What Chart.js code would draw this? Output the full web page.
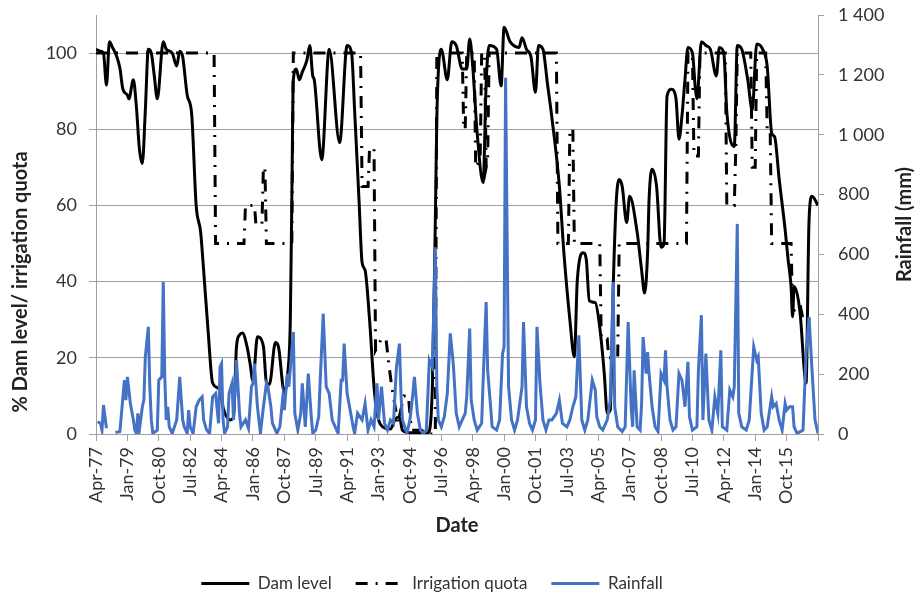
<!DOCTYPE html>
<html>
<head>
<meta charset="utf-8">
<script src="https://cdn.jsdelivr.net/npm/chart.js@4.4.0/dist/chart.umd.min.js"></script>
<style>
  html, body { margin: 0; padding: 0; background: #ffffff; }
  canvas { display: block; }
</style>
</head>
<body>
<canvas id="chart" width="919" height="598"></canvas>
<script>
// ---- Tick labels (one every 21 months, month 0 = Apr-77) ----
const xTickLabels = ['Apr-77','Jan-79','Oct-80','Jul-82','Apr-84','Jan-86','Oct-87','Jul-89','Apr-91','Jan-93',
  'Oct-94','Jul-96','Apr-98','Jan-00','Oct-01','Jul-03','Apr-05','Jan-07','Oct-08','Jul-10','Apr-12','Jan-14','Oct-15'];

// ---- Dam level (%), month index since Apr-77 ----
const damMonths = [0,3,5,7,9,11,14,16,18,21,22,25,27,29,31,33,35,37,39,41,45,47,51,54,56,58,61,64,67,70,72,75,78,83,85,90,92,94,96,98,
  101,103,105,108,112,114,116,120,122,126,128,130,131,132,134,136,138,141,143,145,146,151,156,163,168,171,173,176,178,180,183,186,188,192,197,
  200,203,205,210,215,222,225,227,228,229,231,235,238,241,245,248,250,252,255,259,261,263,268,271,273,277,283,285,288,291,294,296,299,
  302,305,310,313,317,320,322,326,328,330,334,337,340,342,344,346,348,350,352,355,357,362,365,367,369,370,372,375,378,380,382,385,388,
  390,392,394,396,399,401,402,405,408,411,415,417,420,422,427,429,432,436,439,442,446,449,452,454,457,461,463,465,466,467,471,474,475,
  477,479,483];
const damLevel = [101,100.5,100,91.6,103,101.5,99,96,90.5,89,88,93,86,75,71,85,101,100,94,88,103,101,100,96.6,100.5,99,89,84,60,53,43,27,13.4,11.6,7,3.7,4.5,23,26,26.5,
  23,18.7,14,25.5,23,13.5,13,24,23,10.8,15,30,61.6,93,95.8,93,95,98,102,94,93,72,101,76.5,102,100,85,61,45,43,30,12.4,5.5,1.8,1.3,
  3.7,4.5,1,0.3,0.3,0.3,12,56,82.6,95,101,93,103,102,95.8,95.8,103.7,96.6,79,66,92,102,101,91.4,106.8,103,101.5,104,101,99,89.7,102,101,
  92,83,65,47.6,30,20.3,40.5,47.6,45.8,35,34.5,28,16,5.5,6.3,38.7,60.8,66.8,65,55.5,62.4,53,43,37,47.6,61.6,69.5,65,49,50,88.7,90.5,88,
  77.4,83.5,93,101.5,100,90.5,88,103,102,101,94,101.5,100,84.5,75.5,102,101,93,85,102.4,101,96.6,79,78,67,53.7,45.8,38.7,30.8,38.7,31.8,16,13.4,
  56,62.4,60];

// ---- Irrigation quota (%) ----
const quotaMonths = [0,79,80,99,100,106,107,111,112,113,114,131,132,177,178,182,183,186,187,191,194,196,198,202,206,209,211,218,220,227,
  228,245,246,247,248,253,254,257,258,260,261,262,263,308,309,316,317,319,320,337,338,342,343,349,350,395,396,399,400,403,404,
  421,422,427,428,429,438,439,441,442,448,449,451,452,465,466,471,473,483];
const quota = [100,100,50,50,60,60,55,55,70,70,50,50,100,100,65,65,75,75,22,25,25,18,12,3,10,10,1,1,0,0,
  100,100,80,80,100,100,70,72,100,100,70,72,100,100,50,50,80,80,50,50,25,25,20,20,50,50,100,100,73,73,100,
  100,60,60,75,100,100,70,70,100,100,80,80,50,50,32,34,30,30];

// ---- Rainfall (mm) ----
const rainMonths = [1,3,4,5,7,10,13,16,19,20,21,23,25,26,27,28,29,31,32,33,35,36,37,38,41,42,44,45,46,47,48,49,51,54,56,58,59,61,62,63,65,67,69,71,72,74,76,78,80,82,83,84,85,86,88,89,91,92,94,96,97,
  100,102,104,105,106,108,110,112,114,115,117,118,121,123,125,126,128,129,132,133,135,137,138,140,142,144,145,147,149,150,152,154,156,158,160,162,164,165,166,168,170,172,173,175,178,180,182,184,186,188,189,191,193,195,197,199,
  201,203,204,205,208,210,212,213,215,217,219,221,223,225,227,228,229,231,233,235,237,239,241,243,245,247,248,250,251,253,255,258,259,261,262,264,265,268,270,272,273,274,276,278,280,282,285,286,288,290,292,294,295,297,299,
  301,303,305,308,310,312,315,317,319,321,323,325,327,329,330,332,334,335,337,339,342,344,346,347,349,352,354,356,358,359,360,362,364,365,366,368,369,370,372,374,376,378,380,381,382,384,386,388,390,392,394,396,397,399,
  402,403,405,406,408,410,412,414,416,418,419,422,424,426,427,429,430,432,435,437,440,442,443,445,447,449,452,453,455,457,459,461,462,464,466,467,469,473,475,477,479,481,483];
const rainfall = [41,36,13,97,19,null,5,8,180,113,191,102,47,13,2,69,13,91,113,258,358,158,47,2,13,180,191,508,191,47,91,24,2,47,191,47,24,2,80,24,2,91,113,124,47,13,2,124,135,36,224,235,47,2,24,135,169,47,247,69,24,
  47,19,158,169,235,91,2,91,169,158,91,36,2,24,124,80,202,158,341,69,13,69,169,24,202,58,2,13,58,180,402,158,135,47,24,2,180,180,302,135,80,24,2,69,47,102,13,47,24,169,47,158,36,13,47,36,
  224,302,135,47,2,47,135,191,69,13,2,13,247,224,624,158,47,24,58,135,336,235,69,24,47,69,124,352,113,47,13,36,180,441,213,91,24,13,47,269,291,1190,158,47,13,47,158,374,91,36,13,47,358,169,47,
  13,47,47,69,113,36,24,47,91,124,330,47,13,47,91,180,147,58,24,13,47,113,508,91,24,8,24,374,91,24,213,24,13,102,324,202,274,202,91,24,8,202,180,280,158,47,13,24,202,180,91,241,58,13,
  24,213,397,47,269,47,13,124,69,280,24,13,147,124,158,702,69,24,13,47,291,247,258,69,13,24,124,91,102,47,13,102,80,91,91,24,2,13,269,391,213,47,2];

const leftTitle = '% Dam level/ irrigation quota';
const rightTitle = 'Rainfall (mm)';
const bottomTitle = 'Date';

function pairs(xs, ys) { return xs.map((x, i) => ({ x: x, y: ys[i] })); }

const FONT = 'Lato';
const TEXT = '#333333';
const GRID = '#a0a0a0';

function noEdgePadding(scale) {
  scale.paddingTop = 0;
  scale.paddingBottom = 0;
  scale.paddingLeft = 0;
  scale.paddingRight = 0;
}

const axisTitles = {
  id: 'axisTitles',
  afterDraw(chart) {
    const { ctx, chartArea } = chart;
    ctx.save();
    ctx.fillStyle = '#222222';
    ctx.font = 'bold 20px ' + FONT;
    ctx.textAlign = 'center';
    ctx.textBaseline = 'middle';
    ctx.save();
    ctx.translate(chartArea.left - 75, chartArea.bottom - 152);
    ctx.rotate(-Math.PI / 2);
    ctx.fillText(leftTitle, 0, 0);
    ctx.restore();
    ctx.save();
    ctx.translate(chartArea.right + 87, (chartArea.top + chartArea.bottom) / 2);
    ctx.rotate(-Math.PI / 2);
    ctx.fillText(rightTitle, 0, 0);
    ctx.restore();
    ctx.restore();
  }
};

new Chart(document.getElementById('chart'), {
  type: 'line',
  data: {
    datasets: [
      {
        label: 'Dam level',
        data: pairs(damMonths, damLevel),
        yAxisID: 'y',
        borderColor: '#000000',
        backgroundColor: '#000000',
        borderWidth: 3,
        cubicInterpolationMode: 'monotone',
        pointRadius: 0,
        order: 1
      },
      {
        label: 'Irrigation quota',
        data: pairs(quotaMonths, quota),
        yAxisID: 'y',
        borderColor: '#000000',
        backgroundColor: '#000000',
        borderWidth: 3,
        borderDash: [12, 8, 2, 8],
        tension: 0,
        pointRadius: 0,
        order: 2
      },
      {
        label: 'Rainfall',
        data: pairs(rainMonths, rainfall),
        yAxisID: 'y1',
        borderColor: '#4472C4',
        backgroundColor: '#4472C4',
        borderWidth: 3,
        tension: 0,
        pointRadius: 0,
        spanGaps: false,
        order: 0
      }
    ]
  },
  options: {
    responsive: false,
    animation: false,
    events: [],
    layout: { padding: { left: -24, right: 31, top: 15, bottom: -4 } },
    scales: {
      x: {
        type: 'linear',
        min: 0,
        max: 483,
        offset: false,
        afterFit(scale) { scale.height = 117; noEdgePadding(scale); },
        grid: { display: true, drawOnChartArea: false, drawTicks: true, tickLength: 7, color: GRID },
        border: { display: true, color: GRID, width: 1 },
        ticks: {
          stepSize: 21,
          autoSkip: false,
          minRotation: 90,
          maxRotation: 90,
          padding: 6,
          color: TEXT,
          font: { family: FONT, size: 18 },
          callback: (v) => xTickLabels[Math.round(v / 21)] || ''
        },
        title: {
          display: true,
          text: bottomTitle,
          color: '#222222',
          font: { family: FONT, size: 20, weight: 'bold' },
          padding: { top: 0, bottom: 13 }
        }
      },
      y: {
        type: 'linear',
        position: 'left',
        min: 0,
        max: 110,
        afterFit(scale) { scale.width = 120; noEdgePadding(scale); },
        grid: { color: GRID, drawTicks: true, tickLength: 7 },
        border: { display: true, color: GRID, width: 1 },
        ticks: {
          stepSize: 20,
          includeBounds: false,
          padding: 12,
          color: TEXT,
          font: { family: FONT, size: 18 }
        }
      },
      y1: {
        type: 'linear',
        position: 'right',
        min: 0,
        max: 1400,
        afterFit(scale) { scale.width = 70; noEdgePadding(scale); },
        grid: { drawOnChartArea: false, drawTicks: true, tickLength: 6, color: GRID },
        border: { display: true, color: GRID, width: 1 },
        ticks: {
          stepSize: 200,
          padding: 14,
          color: TEXT,
          font: { family: FONT, size: 18 },
          callback: (v) => String(v).replace(/\B(?=(\d{3})+(?!\d))/g, ' ')
        }
      }
    },
    plugins: {
      legend: {
        display: true,
        position: 'bottom',
        labels: {
          usePointStyle: true,
          pointStyle: 'line',
          pointStyleWidth: 48,
          padding: 24,
          color: TEXT,
          font: { family: FONT, size: 17 },
          generateLabels(chart) {
            const items = Chart.defaults.plugins.legend.labels.generateLabels(chart);
            items.forEach((it) => {
              const ds = chart.data.datasets[it.datasetIndex];
              it.lineDash = ds.borderDash || [];
              it.lineWidth = ds.borderWidth;
              it.strokeStyle = ds.borderColor;
              it.lineCap = 'butt';
            });
            return items;
          },
          sort: (a, b) => a.datasetIndex - b.datasetIndex
        }
      },
      tooltip: { enabled: false }
    }
  },
  plugins: [axisTitles]
});
</script>
</body>
</html>
